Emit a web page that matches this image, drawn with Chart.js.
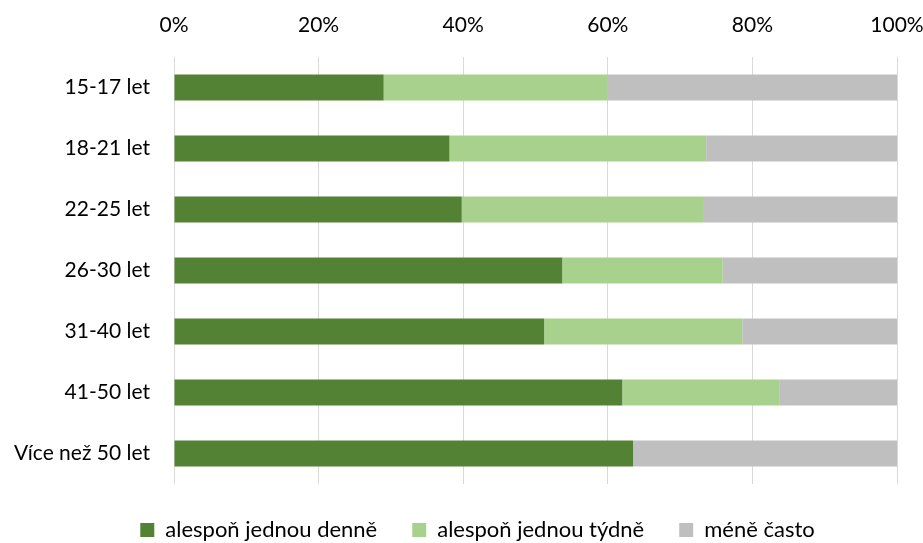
<!DOCTYPE html>
<html>
<head>
<meta charset="utf-8">
<script src="https://cdn.jsdelivr.net/npm/chart.js@4.4.1/dist/chart.umd.min.js"></script>
<style>
  html, body { margin: 0; padding: 0; background: #ffffff; }
  #wrap { width: 923px; height: 543px; }
</style>
</head>
<body>
<div id="wrap"><canvas id="c" width="923" height="543"></canvas></div>
<script>
const categories = ['15-17 let', '18-21 let', '22-25 let', '26-30 let', '31-40 let', '41-50 let', 'Více než 50 let'];
const seriesNames = ['alespoň jednou denně', 'alespoň jednou týdně', 'méně často'];
const daily  = [29.0, 38.1, 39.8, 53.7, 51.2, 62.0, 63.5];
const weekly = [30.9, 35.5, 33.5, 22.2, 27.4, 21.7, 0];
const less   = [40.1, 26.4, 26.7, 24.1, 21.4, 16.3, 36.5];
const tickValues = [0, 20, 40, 60, 80, 100];

const colors = ['#548235', '#A9D18E', '#BFBFBF'];
const FONT = 'Lato, "Open Sans", sans-serif';

const legendShift = {
  id: 'legendShift',
  afterLayout(chart) {
    if (chart.legend) { chart.legend.left += 24; chart.legend.right += 24; }
  }
};

new Chart(document.getElementById('c'), {
  type: 'bar',
  data: {
    labels: categories,
    datasets: [daily, weekly, less].map((d, i) => ({
      label: seriesNames[i],
      data: d,
      backgroundColor: colors[i],
      borderWidth: 0,
      categoryPercentage: 1,
      barPercentage: 0.43
    }))
  },
  plugins: [legendShift],
  options: {
    indexAxis: 'y',
    responsive: false,
    animation: false,
    layout: { padding: { top: 12, left: 10, right: 26, bottom: -8 } },
    plugins: {
      tooltip: { enabled: false },
      legend: {
        position: 'bottom',
        labels: {
          color: '#000000',
          font: { family: FONT, size: 22 },
          boxWidth: 14,
          boxHeight: 14,
          padding: 35
        }
      }
    },
    scales: {
      x: {
        position: 'top',
        stacked: true,
        min: 0,
        max: 100,
        afterBuildTicks: s => { s.ticks = tickValues.map(v => ({ value: v })); },
        afterFit: s => { s.height = 45; s.paddingLeft = 0; s.paddingRight = 0; },
        ticks: {
          callback: v => v + '%',
          color: '#000000',
          font: { family: FONT, size: 21 },
          padding: 19,
          maxRotation: 0
        },
        grid: { color: '#D9D9D9', lineWidth: 1, drawTicks: false },
        border: { display: false }
      },
      y: {
        stacked: true,
        afterFit: s => { s.width = 164; s.paddingTop = 0; s.paddingBottom = 0; },
        ticks: {
          color: '#000000',
          font: { family: FONT, size: 21 },
          padding: 24
        },
        grid: { display: false, drawTicks: false },
        border: { display: false }
      }
    }
  }
});
</script>
</body>
</html>
